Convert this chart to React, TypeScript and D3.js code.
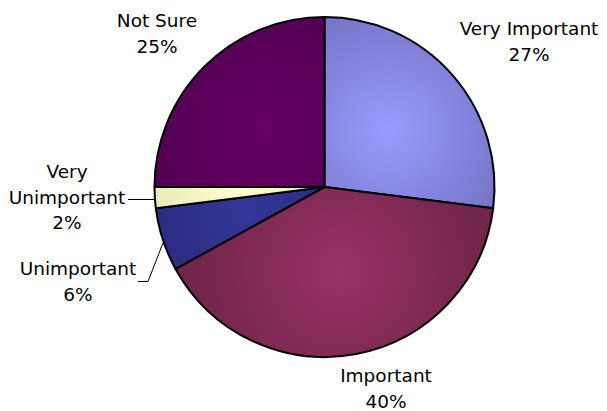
import React from "react";
import * as d3 from "d3";

const categories = ["Very Important", "Important", "Unimportant", "Very Unimportant", "Not Sure"];
const values = [27, 40, 6, 2, 25];
const labelLines = [["Very Important", "27%"], ["Important", "40%"], ["Unimportant", "6%"], ["Very", "Unimportant", "2%"], ["Not Sure", "25%"]];

const colorsCenter = ["#9b9bff", "#993366", "#363699", "#ffffcc", "#660066"];
const colorsEdge = ["#7070c0", "#72254b", "#262673", "#dcdcae", "#4e004e"];

// label layout (text centres, first baseline)
const labelPos: [number, number][] = [[529, 35], [386, 382], [78, 275], [67, 178], [157, 27]];

export default function App() {
  const W = 607, H = 411;
  const cx = 324.5, cy = 187, r = 170;
  const pie = d3.pie<number>().sort(null).value((d) => d);
  const arcs = pie(values);
  const arc = d3.arc<d3.PieArcDatum<number>>().innerRadius(0).outerRadius(r);
  const lineH = 25.5;
  const vuMid = (arcs[3].startAngle + arcs[3].endAngle) / 2;
  return (
    <svg width={W} height={H} style={{ position: "absolute", left: 0, top: 0 }}>
      <defs>
        {arcs.map((a, i) => {
          const [mx, my] = d3.arc<d3.PieArcDatum<number>>().innerRadius(0).outerRadius(r).centroid(a);
          return (
            <radialGradient key={i} id={`g${i}`} gradientUnits="userSpaceOnUse" cx={mx} cy={my} r={r * 0.85}>
              <stop offset="0" stopColor={colorsCenter[i]} />
              <stop offset="1" stopColor={colorsEdge[i]} />
            </radialGradient>
          );
        })}
      </defs>
      <rect width={W} height={H} fill="#fff" />
      <g transform={`translate(${cx},${cy})`}>
        {arcs.map((a, i) => (
          <path key={i} d={arc(a) || ""} fill={`url(#g${i})`} stroke="#000" strokeWidth={2} strokeLinejoin="round" />
        ))}
      </g>
      {/* leader lines */}
      <path d={`M128,199.5 H${cx + r * Math.sin(vuMid)}`} stroke="#000" strokeWidth={1} fill="none" />
      <path d={`M138,281.5 H148 L163,243`} stroke="#000" strokeWidth={1} fill="none" />
      {labelLines.map((lines, i) => (
        <text key={categories[i]} x={labelPos[i][0]} y={labelPos[i][1]} textAnchor="middle" fontFamily="DejaVu Sans, Verdana, sans-serif" fontSize={18.5} fill="#000">
          {lines.map((t, j) => (
            <tspan key={j} x={labelPos[i][0]} dy={j === 0 ? 0 : lineH}>{t}</tspan>
          ))}
        </text>
      ))}
    </svg>
  );
}
